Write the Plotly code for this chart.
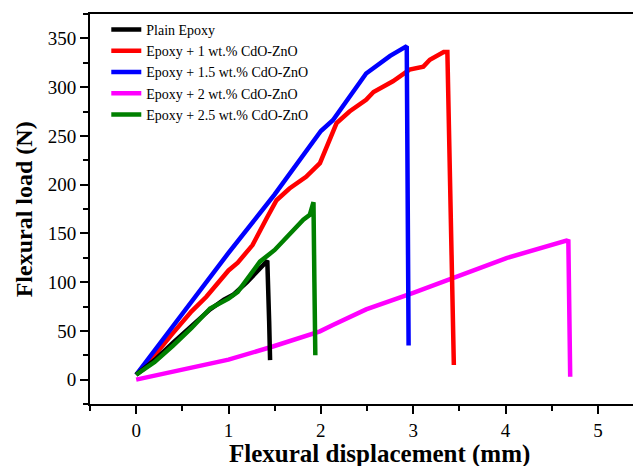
import plotly.graph_objects as go

# Data
plain_x = [0, 0.2, 0.4, 0.6, 0.8, 0.95, 1.05, 1.2, 1.3, 1.42, 1.44, 1.45]
plain_y = [5, 20, 38, 55, 72, 82, 87, 100, 110, 122, 60, 20]

red_x = [0, 0.2, 0.4, 0.6, 0.76, 0.9, 1.0, 1.1, 1.26, 1.41, 1.52, 1.66, 1.84, 1.99, 2.1, 2.17, 2.31, 2.49, 2.57, 2.78, 2.96, 3.11, 3.18, 3.33, 3.37, 3.44]
red_y = [5, 25, 48, 70, 85, 100, 112, 120, 138, 165, 184, 196, 208, 222, 246, 263, 275, 287, 295, 306, 318, 321, 328, 336, 336, 15]

blue_x = [0, 0.5, 1.0, 1.5, 1.77, 2.0, 2.13, 2.49, 2.75, 2.93, 2.95]
blue_y = [5, 67, 130, 190, 225, 255, 266, 314, 332, 342, 35]

mag_x = [0, 0.5, 1.0, 1.48, 1.99, 2.13, 2.49, 3.0, 3.43, 4.01, 4.66, 4.68, 4.70]
mag_y = [0, 10, 20.5, 34, 49.5, 56, 72, 89, 104, 124.7, 142.5, 142, 3]

green_x = [0, 0.2, 0.4, 0.6, 0.8, 1.0, 1.1, 1.2, 1.34, 1.5, 1.7, 1.81, 1.88, 1.92, 1.93, 1.94]
green_y = [5, 18, 35, 53, 73, 83, 90, 103, 121, 133, 154, 164, 169, 182, 100, 25]

names = ["Plain Epoxy", "Epoxy + 1 wt.% CdO-ZnO", "Epoxy + 1.5 wt.% CdO-ZnO",
         "Epoxy + 2 wt.% CdO-ZnO", "Epoxy + 2.5 wt.% CdO-ZnO"]
colors = ["#000000", "#ff0000", "#0000ff", "#ff00ff", "#008000"]
series = [(plain_x, plain_y), (red_x, red_y), (blue_x, blue_y), (mag_x, mag_y), (green_x, green_y)]

fig = go.Figure()
# draw order: magenta, red, blue, black, green (green over black)
order = [3, 1, 2, 0, 4]
for i in order:
    xs, ys = series[i]
    fig.add_trace(go.Scatter(x=xs, y=ys, mode="lines", name=names[i],
                             line=dict(color=colors[i], width=4.5), legendrank=i + 1))

font = "Liberation Serif"
fig.update_layout(
    width=633, height=466,
    margin=dict(l=90, r=0, t=14, b=62),
    plot_bgcolor="white", paper_bgcolor="white",
    font=dict(family=font, color="black"),
    showlegend=True,
    legend=dict(x=0.03, y=1.0, xanchor="left", yanchor="top",
                bgcolor="rgba(0,0,0,0)", font=dict(family=font, size=14),
                tracegroupgap=0, itemwidth=30, traceorder="normal"),
    xaxis=dict(range=[-0.5, 5.38], tickvals=[0, 1, 2, 3, 4, 5],
               ticks="outside", ticklen=8, tickwidth=1.5, tickcolor="black",
               minor=dict(dtick=0.5, tick0=0, ticks="outside", ticklen=5, tickwidth=1.5, tickcolor="black"),
               showline=True, linecolor="black", linewidth=2, mirror=True,
               showgrid=False, zeroline=False,
               tickfont=dict(family=font, size=19)),
    yaxis=dict(range=[-25, 375], tickvals=[0, 50, 100, 150, 200, 250, 300, 350],
               ticks="outside", ticklen=8, tickwidth=1.5, tickcolor="black",
               minor=dict(dtick=25, tick0=0, ticks="outside", ticklen=5, tickwidth=1.5, tickcolor="black"),
               showline=True, linecolor="black", linewidth=2, mirror=False,
               showgrid=False, zeroline=False,
               tickfont=dict(family=font, size=19)),
    annotations=[
        dict(text="<b>Flexural displacement (mm)</b>", xref="paper", yref="paper",
             x=0.534, y=-0.128, xanchor="center", yanchor="middle", showarrow=False,
             font=dict(family=font, size=25)),
        dict(text="<b>Flexural load (N)</b>", xref="paper", yref="paper",
             x=-0.121, y=0.5, xanchor="center", yanchor="middle", showarrow=False,
             textangle=-90, font=dict(family=font, size=24)),
    ],
)

fig.write_html("out.html")
